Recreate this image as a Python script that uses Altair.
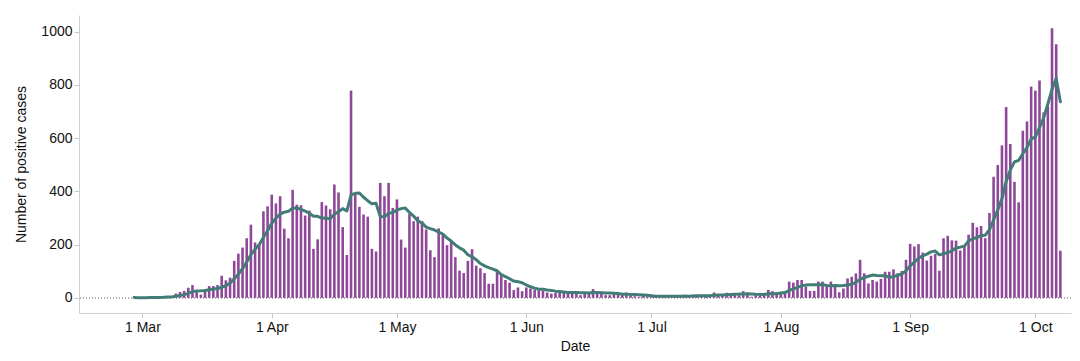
import altair as alt
import pandas as pd

# Daily positive cases, one value per day starting 28 Feb 2020
first_day = "2020-02-28"
cases = [
    1, 0, 1, 1, 2, 2, 3, 4, 6, 7,                      # 28 Feb - 8 Mar
    16, 22, 26, 38, 48, 22, 12, 25, 44, 44,            # 9 Mar - 18 Mar
    48, 83, 66, 76, 139, 166, 189, 224, 275, 208,      # 19 Mar - 28 Mar
    199, 325, 344, 388, 355, 382, 260, 224, 406, 350,  # 29 Mar - 7 Apr
    348, 309, 328, 184, 220, 360, 347, 333, 426, 396,  # 8 Apr - 17 Apr
    266, 161, 779, 389, 342, 313, 305, 184, 174, 432,  # 18 Apr - 27 Apr
    382, 432, 338, 370, 219, 189, 315, 288, 305, 288,  # 28 Apr - 7 May
    257, 179, 153, 261, 236, 198, 212, 153, 102, 93,   # 8 May - 17 May
    139, 183, 121, 111, 93, 53, 53, 98, 83, 67,        # 18 May - 27 May
    57, 29, 39, 25, 39, 35, 31, 29, 26, 20,            # 28 May - 6 Jun
    16, 19, 23, 20, 19, 23, 19, 10, 19, 19,            # 7 Jun - 16 Jun
    33, 19, 16, 10, 10, 14, 14, 13, 20, 10,            # 17 Jun - 26 Jun
    6, 4, 8, 5, 3, 7, 9, 4, 6, 10,                     # 27 Jun - 6 Jul
    5, 3, 8, 6, 12, 10, 8, 6, 8, 20,                   # 7 Jul - 16 Jul
    13, 10, 19, 13, 13, 10, 25, 19, 4, 10,             # 17 Jul - 26 Jul
    10, 10, 30, 25, 20, 20, 23, 61, 57, 67,            # 27 Jul - 5 Aug
    67, 42, 26, 26, 61, 61, 42, 61, 45, 21,            # 6 Aug - 15 Aug
    35, 73, 79, 92, 143, 92, 54, 67, 61, 71,           # 16 Aug - 25 Aug
    98, 98, 107, 92, 101, 143, 203, 193, 202, 170,     # 26 Aug - 4 Sep
    140, 158, 165, 102, 224, 233, 216, 215, 178, 193,  # 5 Sep - 14 Sep
    237, 282, 265, 270, 224, 319, 455, 499, 573, 717,  # 15 Sep - 24 Sep
    578, 436, 359, 628, 663, 794, 779, 817, 697, 720,  # 25 Sep - 4 Oct
    1013, 953, 177,                                    # 5 Oct - 7 Oct
]
y_ticks = [0, 200, 400, 600, 800, 1000]

dates = pd.date_range(first_day, periods=len(cases), freq="D").strftime("%Y-%m-%dT00:00:00")
df = pd.DataFrame({"date": list(dates), "cases": cases})

BAR = "#8f4899"
LINE = "#417c77"

x_scale = alt.Scale(domain=[alt.DateTime(year=2020, month=2, date=16),
                            alt.DateTime(year=2020, month=10, date=8, hours=8, minutes=24)])
y_scale = alt.Scale(domain=[-57, 1063], nice=False, zero=False)

x_axis = alt.Axis(title="Date", format="%-d %b",
                  tickCount=alt.TimeIntervalStep(interval="month", step=1),
                  titlePadding=5)
y_axis = alt.Axis(title="Number of positive cases", values=y_ticks, format="d",
                  titlePadding=12)

base = alt.Chart(df)

bars = base.mark_bar(size=2.6, color=BAR).encode(
    x=alt.X("date:T", scale=x_scale, axis=x_axis),
    y=alt.Y("cases:Q", scale=y_scale, axis=y_axis),
)

line = base.transform_window(
    avg="mean(cases)", frame=[-6, 0], sort=[alt.SortField("date")]
).mark_line(color=LINE, strokeWidth=3, strokeJoin="round", strokeCap="round").encode(
    x=alt.X("date:T", scale=x_scale, axis=x_axis),
    y=alt.Y("avg:Q", scale=y_scale, axis=y_axis),
)

zero = alt.Chart(df).mark_rule(color="#aaaaaa", strokeDash=[1, 2], strokeWidth=1).encode(
    y=alt.datum(0)
)

chart = alt.layer(zero, bars, line).properties(
    width=1064, height=345,
    autosize=alt.AutoSizeParams(type="fit", contains="padding"),
    padding={"left": 6, "top": 7, "right": 0, "bottom": 0},
).configure_view(stroke=None).configure_axis(
    grid=False,
    labelFont="Liberation Sans", titleFont="Liberation Sans",
    labelFontSize=14, titleFontSize=14, titleFontWeight="normal",
    labelColor="#111111", titleColor="#111111",
    domainColor="#d0d0d0", tickColor="#c8c8c8",
)

chart.save("out.html", embed_options={"renderer": "svg", "actions": False})
